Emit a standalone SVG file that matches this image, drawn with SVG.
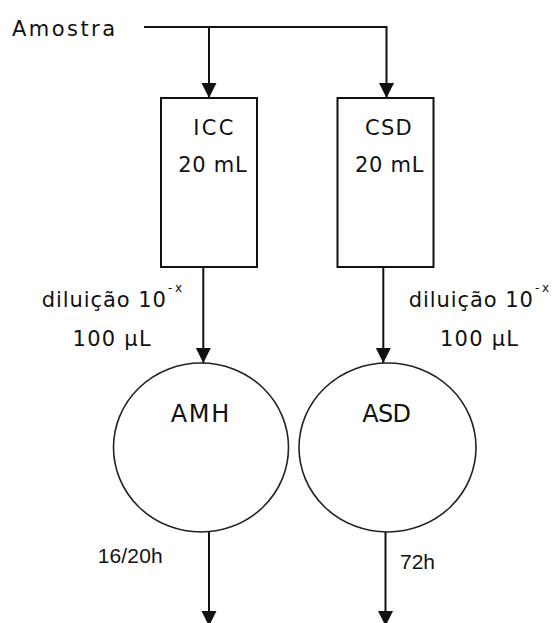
<svg xmlns="http://www.w3.org/2000/svg" width="555" height="623" viewBox="0 0 555 623">
<defs>
<style>
.t{font-family:"DejaVu Sans","Liberation Sans",sans-serif;font-size:21px;fill:#111}
.big{font-size:24px}
.a{font-family:"Liberation Sans",Arial,sans-serif;font-size:21px;fill:#111}
.sup{font-family:"DejaVu Sans",sans-serif;font-size:12px;fill:#111}
.box{fill:#fff;stroke:#111;stroke-width:2}
.circ{fill:#fff;stroke:#222;stroke-width:1.6}
.ln{fill:none;stroke:#111;stroke-width:2}
</style>
<marker id="arr" markerUnits="userSpaceOnUse" markerWidth="16" markerHeight="16" refX="15" refY="7.5" orient="auto" viewBox="0 0 16 15">
<path d="M0,0 L15,7.5 L0,15 Z" fill="#111"/>
</marker>
</defs>
<rect width="555" height="623" fill="#fff"/>
<g id="amostra">
<text class="t" x="12" y="36" textLength="103" lengthAdjust="spacing">Amostra</text>
</g>
<g id="connectors">
<path class="ln" d="M144,27 H386.5 V98" marker-end="url(#arr)"/>
<path class="ln" d="M209,27 V98" marker-end="url(#arr)"/>
<path class="ln" d="M203.3,267 V363" marker-end="url(#arr)"/>
<path class="ln" d="M383.3,267 V363" marker-end="url(#arr)"/>
<path class="ln" d="M209,532 V626" marker-end="url(#arr)"/>
<path class="ln" d="M385.5,532 V626" marker-end="url(#arr)"/>
</g>
<g id="icc">
<rect class="box" x="161" y="98" width="96" height="169"/>
<text class="t" x="193.3" y="135" textLength="40" lengthAdjust="spacing">ICC</text>
<text class="t" x="178.3" y="171.7" textLength="68.4" lengthAdjust="spacing">20 mL</text>
</g>
<g id="csd">
<rect class="box" x="337.5" y="98" width="96" height="169"/>
<text class="t" x="365" y="135" textLength="46.7" lengthAdjust="spacing">CSD</text>
<text class="t" x="355" y="171.7" textLength="68.4" lengthAdjust="spacing">20 mL</text>
</g>
<g id="amh">
<ellipse class="circ" cx="201" cy="447.5" rx="87.5" ry="84.5"/>
<text class="t big" x="170.7" y="421.7" textLength="58.6" lengthAdjust="spacing">AMH</text>
</g>
<g id="asd">
<ellipse class="circ" cx="387.5" cy="447.5" rx="88.5" ry="84.5"/>
<text class="t big" x="362.3" y="421.7" textLength="48.7" lengthAdjust="spacing">ASD</text>
</g>
<g id="labels">
<text class="t" x="41.8" y="306.6" textLength="124" lengthAdjust="spacing">diluição 10</text>
<text class="sup" x="168" y="292" textLength="14" lengthAdjust="spacing">-x</text>
<text class="t" x="72.6" y="346.3" textLength="78" lengthAdjust="spacing">100 µL</text>
<text class="t" x="408.8" y="306.6" textLength="124" lengthAdjust="spacing">diluição 10</text>
<text class="sup" x="535" y="292" textLength="14" lengthAdjust="spacing">-x</text>
<text class="t" x="440" y="346.3" textLength="78" lengthAdjust="spacing">100 µL</text>
<text class="a" x="97.7" y="563.3" textLength="65" lengthAdjust="spacing">16/20h</text>
<text class="a" x="400" y="569.3" textLength="35" lengthAdjust="spacing">72h</text>
</g>
</svg>
